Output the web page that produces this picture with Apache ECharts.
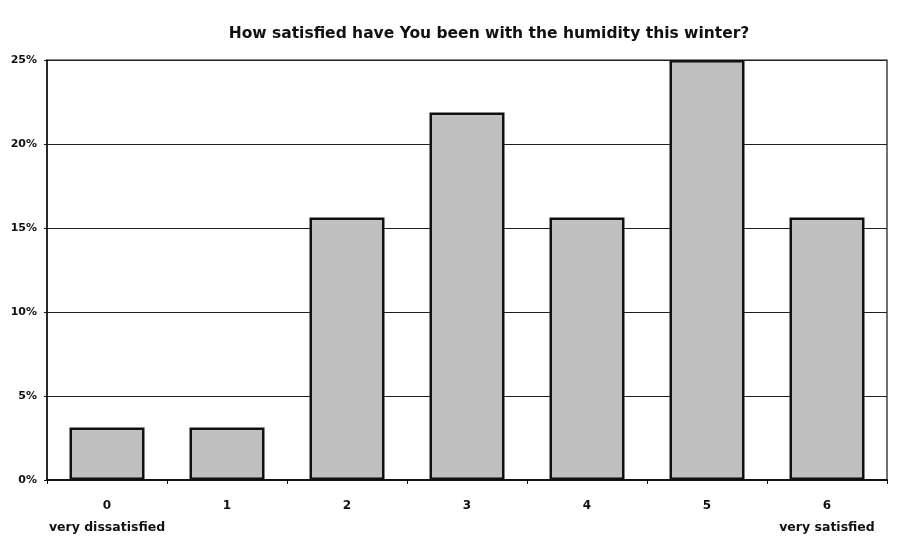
<!DOCTYPE html>
<html>
<head>
<meta charset="utf-8">
<script src="https://cdn.jsdelivr.net/npm/echarts@6/dist/echarts.min.js"></script>
<style>html,body{margin:0;padding:0;background:#fff;}#c{width:902px;height:540px;}</style>
</head>
<body>
<div id="c"></div>
<script>
const titleText = 'How satisfied have You been with the humidity this winter?';
const categories = ['0', '1', '2', '3', '4', '5', '6'];
const subLabels = ['very dissatisfied', '', '', '', '', '', 'very satisfied'];
const values = [3.125, 3.125, 15.625, 21.875, 15.625, 25, 15.625];
const yTicks = { min: 0, max: 25, interval: 5 };

const chart = echarts.init(document.getElementById('c'));
const font = 'DejaVu Sans, Arial, sans-serif';
chart.setOption({
  animation: false,
  backgroundColor: '#ffffff',
  title: {
    text: titleText,
    left: 484, top: 21, textAlign: 'center',
    textStyle: { fontFamily: font, fontSize: 15.5, fontWeight: 'bold', color: '#111' }
  },
  grid: { left: 47, right: 15, top: 60, bottom: 60, show: true, borderColor: '#111', borderWidth: 1.2 },
  xAxis: {
    type: 'category',
    data: categories,
    axisLine: { lineStyle: { color: '#111', width: 2 } },
    axisTick: { show: true, length: 4, lineStyle: { color: '#111' } },
    axisLabel: {
      margin: 15,
      interval: 0,
      formatter: (v, i) => subLabels[i] ? '{a|' + v + '}\n{b|' + subLabels[i] + '}' : '{a|' + v + '}\n{b| }',
      rich: {
        a: { fontFamily: font, fontSize: 12, fontWeight: 'bold', color: '#111', lineHeight: 22 },
        b: { fontFamily: font, fontSize: 12.5, fontWeight: 'bold', color: '#111', lineHeight: 22 }
      }
    }
  },
  yAxis: {
    type: 'value',
    min: yTicks.min, max: yTicks.max, interval: yTicks.interval,
    axisLine: { show: true, lineStyle: { color: '#111', width: 1.5 } },
    axisTick: { show: true, length: 3, lineStyle: { color: '#111' } },
    axisLabel: { formatter: '{value}%', fontFamily: font, fontSize: 11, fontWeight: 'bold', color: '#111', margin: 10 },
    splitLine: { show: true, lineStyle: { color: '#222', width: 1.2 } }
  },
  series: [{
    type: 'bar',
    data: values,
    barWidth: '62.5%',
    itemStyle: { color: '#c0c0c0', borderColor: '#111', borderWidth: 2.5 }
  }]
});
</script>
</body>
</html>
